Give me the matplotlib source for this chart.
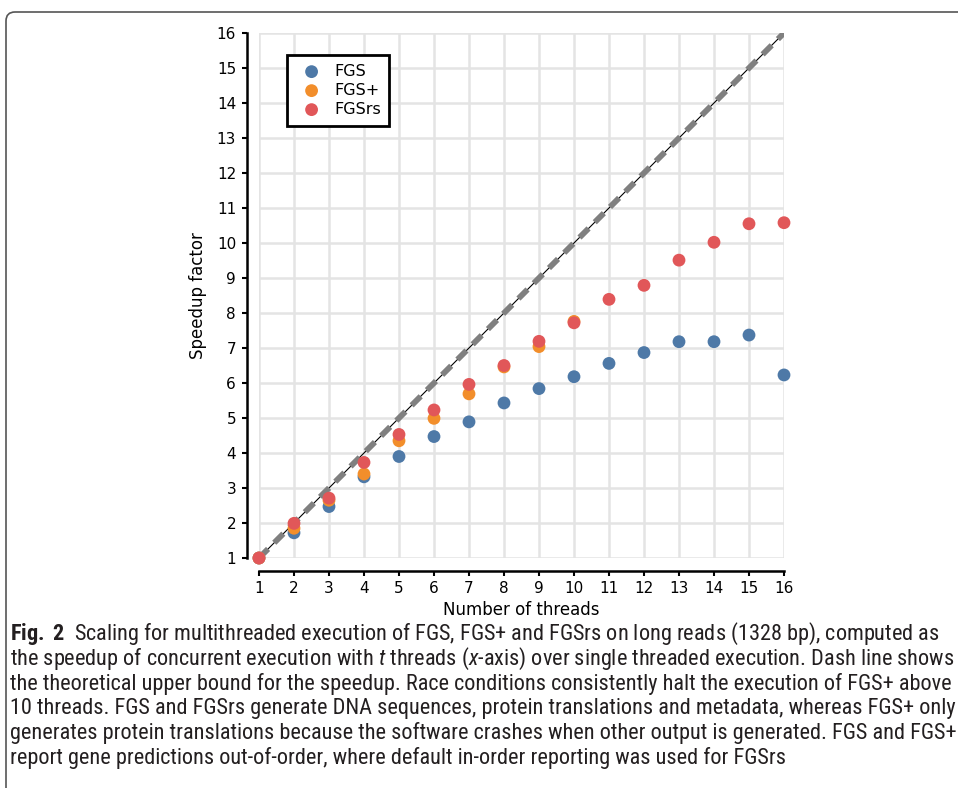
import matplotlib
matplotlib.use('Agg')
import matplotlib.pyplot as plt
from matplotlib import font_manager
from matplotlib.patches import FancyBboxPatch
from matplotlib.transforms import IdentityTransform

threads = list(range(1, 17))
fgs = [1.0, 1.72, 2.47, 3.32, 3.9, 4.47, 4.89, 5.43, 5.84, 6.18, 6.56, 6.87, 7.18, 7.18, 7.37, 6.23]
fgs_plus_threads = list(range(1, 11))
fgs_plus = [1.0, 1.85, 2.65, 3.4, 4.35, 4.99, 5.69, 6.46, 7.04, 7.76]
fgsrs = [1.0, 1.99, 2.71, 3.73, 4.53, 5.23, 5.96, 6.5, 7.19, 7.72, 8.39, 8.79, 9.51, 10.02, 10.55, 10.58]
ideal = [1, 16]

caption_lines = [
    r"$\mathbf{Fig.\ 2}$  Scaling for multithreaded execution of FGS, FGS+ and FGSrs on long reads (1328 bp), computed as",
    r"the speedup of concurrent execution with $t$ threads ($x$-axis) over single threaded execution. Dash line shows",
    "the theoretical upper bound for the speedup. Race conditions consistently halt the execution of FGS+ above",
    "10 threads. FGS and FGSrs generate DNA sequences, protein translations and metadata, whereas FGS+ only",
    "generates protein translations because the software crashes when other output is generated. FGS and FGS+",
    "report gene predictions out-of-order, where default in-order reporting was used for FGSrs",
]

installed = {f.name for f in font_manager.fontManager.ttflist}
condensed = [f for f in font_manager.fontManager.ttflist if f.stretch in ('condensed', 'semi-condensed')]
cap_font = 'Liberation Sans'
cap_stretch = 'normal'
for cand in ['Liberation Sans Narrow', 'Roboto Condensed', 'Open Sans Condensed', 'Noto Sans Condensed']:
    if cand in installed:
        cap_font = cand
        break
else:
    if condensed:
        cap_font = condensed[0].name
        cap_stretch = condensed[0].stretch

plt.rcParams['mathtext.fontset'] = 'custom'
plt.rcParams['mathtext.rm'] = cap_font
plt.rcParams['mathtext.it'] = cap_font + ':italic'
plt.rcParams['mathtext.bf'] = cap_font + ':bold'
plt.rcParams['font.family'] = 'DejaVu Sans'
plt.rcParams['font.size'] = 11

fig = plt.figure(figsize=(9.58, 7.88), dpi=100)
ax = fig.add_axes([259/958, 1-558/788, 525/958, 525/788])

ax.grid(True, color='#e4e4e4', linewidth=1.8, zorder=0)
ax.set_axisbelow(True)
ax.plot(ideal, ideal, color='black', linewidth=0.8, zorder=2)
ax.plot(ideal, ideal, color='#808080', linewidth=4.2, dashes=(2.2, 1.5), zorder=2)
ax.scatter(threads, fgs, s=85, color='#4e79a7', label='FGS', zorder=3, clip_on=False, edgecolors='none')
ax.scatter(fgs_plus_threads, fgs_plus, s=85, color='#f28e2b', label='FGS+', zorder=4, clip_on=False, edgecolors='none')
ax.scatter(threads, fgsrs, s=85, color='#e15759', label='FGSrs', zorder=5, clip_on=False, edgecolors='none')

ax.set_xlim(1, 16)
ax.set_ylim(1, 16)
ax.set_xticks(threads)
ax.set_yticks(range(1, 17))
for s in ['top', 'right']:
    ax.spines[s].set_visible(False)
for s in ['left', 'bottom']:
    ax.spines[s].set_position(('outward', 9))
    ax.spines[s].set_linewidth(1.8)
ax.tick_params(width=1.5, length=3.5, pad=4, labelsize=11)
ax.set_xlabel('Number of threads', fontsize=12, labelpad=4)
ax.set_ylabel('Speedup factor', fontsize=12, labelpad=7)

leg = ax.legend(loc='upper left', bbox_to_anchor=(0.053, 0.958), borderaxespad=0,
                fancybox=False, framealpha=1, edgecolor='black',
                prop={'family': 'DejaVu Sans', 'size': 11.5},
                handletextpad=0.4, borderpad=0.55, labelspacing=0.25, scatterpoints=1)
leg.get_frame().set_linewidth(2)

frame = FancyBboxPatch((6, -40), 1100, 788 - 12 + 40, boxstyle='round,pad=0,rounding_size=9',
                       transform=IdentityTransform(), facecolor='none', edgecolor='#555555', linewidth=1.2)
fig.add_artist(frame)

texts = []
for i, line in enumerate(caption_lines):
    t = fig.text(10/958, 1 - (634 + 24.8*i)/788, line, family=cap_font, fontstretch=cap_stretch,
                 fontsize=13, va='center', ha='left', color='#231f20')
    texts.append(t)

# fit the widest caption line inside the frame
fig.canvas.draw()
r = fig.canvas.get_renderer()
w = max(t.get_window_extent(r).width for t in texts)
scale = 942 / w
for t in texts:
    t.set_fontsize(13 * scale)

fig.savefig('out.png', dpi=100)
